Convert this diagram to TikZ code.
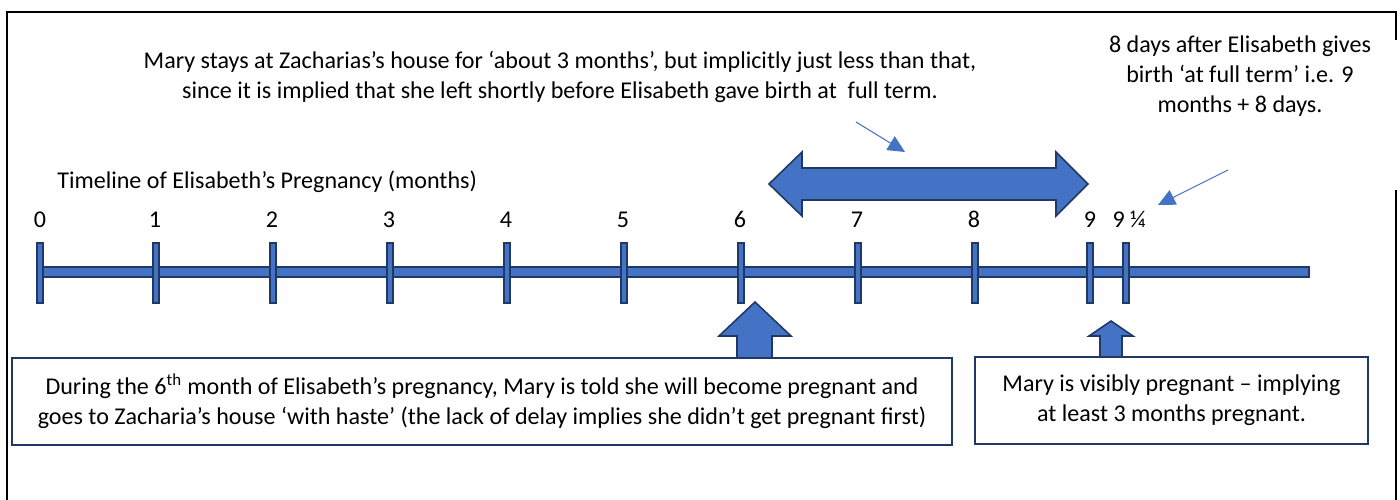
\documentclass[tikz,border=0pt]{standalone}
\usepackage{fontspec}
\setmainfont{Carlito}
\usetikzlibrary{arrows.meta,positioning}
\definecolor{fillblue}{HTML}{4472C4}
\definecolor{navy}{HTML}{203864}
\begin{document}
\begin{tikzpicture}[x=0.02cm,y=-0.02cm,
  every node/.style={font=\fontsize{13.7}{17}\selectfont},
  frameline/.style={line width=1.1pt,black},
  blueshape/.style={fill=fillblue,draw=navy,line width=0.9pt,line join=miter},
  tickmark/.style={blueshape,rectangle,minimum width=0.12cm,minimum height=1.2cm,inner sep=0pt},
  monthlabel/.style={inner sep=0pt,anchor=south},
  notebox/.style={draw=navy,line width=1.1pt,fill=white,rectangle,align=center,minimum height=1.74cm,inner sep=2pt},
  pointer/.style={draw=fillblue,line width=0.6pt,-{Triangle[length=0.34cm,width=0.32cm]}},
  plaintext/.style={align=center,inner sep=0pt}]
\useasboundingbox (0,0) rectangle (1400,500);
% frame
\draw[frameline] (1396,40) -- (1396,12) -- (7,12) -- (7,500);
\draw[frameline] (1396,190) -- (1396,500);
% timeline bar
\draw[blueshape] (37,267) rectangle (1309,277);
% ticks
\node[tickmark] (t0) at (40,273) {};
\node[tickmark] (t1) at (156,273) {};
\node[tickmark] (t2) at (273,273) {};
\node[tickmark] (t3) at (390,273) {};
\node[tickmark] (t4) at (507,273) {};
\node[tickmark] (t5) at (624,273) {};
\node[tickmark] (t6) at (741,273) {};
\node[tickmark] (t7) at (858,273) {};
\node[tickmark] (t8) at (975,273) {};
\node[tickmark] (t9) at (1090,273) {};
\node[tickmark] (t9q) at (1126,273) {};
% labels
\node[monthlabel] (l0) at (40,228) {0};
\node[monthlabel] (l1) at (155,228) {1};
\node[monthlabel] (l2) at (272,228) {2};
\node[monthlabel] (l3) at (389,228) {3};
\node[monthlabel] (l4) at (506,228) {4};
\node[monthlabel] (l5) at (623,228) {5};
\node[monthlabel] (l6) at (740,228) {6};
\node[monthlabel] (l7) at (857,228) {7};
\node[monthlabel] (l8) at (974,228) {8};
\node[monthlabel] (l9) at (1090,228) {9};
\node[monthlabel] (l9q) at (1129,228) {9 ¼};
% title
\node[plaintext,anchor=west] (title) at (57,182) {Timeline of Elisabeth’s Pregnancy (months)};
% double arrow
\draw[blueshape] (769,184) -- (802,152) -- (802,168) -- (1056,168) -- (1056,152) -- (1088,184)
  -- (1056,216) -- (1056,200) -- (802,200) -- (802,216) -- cycle;
\coordinate (stay) at (905,152);
% up arrows
\draw[blueshape] (755,302) -- (791,336) -- (772,336) -- (772,358) -- (737,358) -- (737,336) -- (719,336) -- cycle;
\draw[blueshape] (1111,321) -- (1133,336) -- (1122,336) -- (1122,358) -- (1100,358) -- (1100,336) -- (1089,336) -- cycle;
% notes
\node[plaintext] (topnote) at (560,77) {Mary stays at Zacharias’s house for ‘about 3 months’, but implicitly just less than that,\\ since it is implied that she left shortly before Elisabeth gave birth at\ \ full term.};
\node[plaintext] (rightnote) at (1240,76) {8 days after Elisabeth gives\\ birth ‘at full term’ i.e. 9\\ months + 8 days.};
\coordinate (p1) at (856,122);
\coordinate (p2) at (1228,170);
\coordinate (birth) at (1158,205);
\draw[pointer] (p1) -- (stay);
\draw[pointer] (p2) -- (birth);
% boxes
\node[notebox,minimum width=18.8cm] (leftbox) at (482,401.5) {During the 6\textsuperscript{th} month of Elisabeth’s pregnancy, Mary is told she will become pregnant and\\ goes to Zacharia’s house ‘with haste’ (the lack of delay implies she didn’t get pregnant first)};
\node[notebox,minimum width=7.86cm] (rightbox) at (1171.5,400.5) {Mary is visibly pregnant – implying\\ at least 3 months pregnant.};
\end{tikzpicture}
\end{document}
